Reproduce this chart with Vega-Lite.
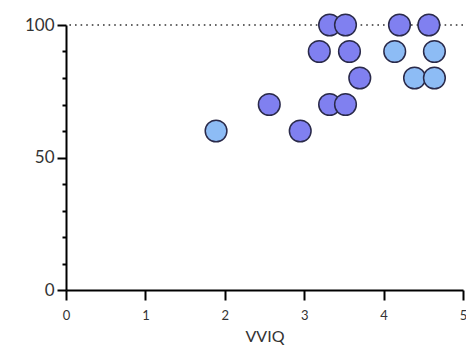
{
  "$schema": "https://vega.github.io/schema/vega-lite/v6.json",
  "width": 397,
  "height": 265,
  "autosize": {"type": "none"},
  "padding": {"left": 66, "top": 25, "right": 3, "bottom": 68},
  "background": "white",
  "config": {"view": {"stroke": null}, "font": "Lato"},
  "resolve": {"axis": {"y": "independent"}},
  "layer": [
    {
      "data": {"values": [{"level": 100}]},
      "mark": {"type": "rule", "color": "#333333", "strokeWidth": 1.6, "strokeDash": [1.6, 4]},
      "encoding": {
        "y": {
          "field": "level", "type": "quantitative",
          "scale": {"domain": [0, 100], "nice": false},
          "axis": {
            "orient": "left",
            "values": [10, 20, 30, 40, 60, 70, 80, 90],
            "labels": false, "domain": false, "grid": false, "title": null,
            "tickColor": "black", "tickWidth": 2, "tickSize": 4
          }
        }
      }
    },
    {
      "data": {"values": [
        {"VVIQ": 1.89, "score": 60, "group": "light"},
        {"VVIQ": 2.95, "score": 60, "group": "dark"},
        {"VVIQ": 2.56, "score": 70, "group": "dark"},
        {"VVIQ": 3.32, "score": 70, "group": "dark"},
        {"VVIQ": 3.52, "score": 70, "group": "dark"},
        {"VVIQ": 3.70, "score": 80, "group": "dark"},
        {"VVIQ": 4.39, "score": 80, "group": "light"},
        {"VVIQ": 4.64, "score": 80, "group": "light"},
        {"VVIQ": 3.19, "score": 90, "group": "dark"},
        {"VVIQ": 3.57, "score": 90, "group": "dark"},
        {"VVIQ": 4.14, "score": 90, "group": "light"},
        {"VVIQ": 4.64, "score": 90, "group": "light"},
        {"VVIQ": 3.32, "score": 100, "group": "dark"},
        {"VVIQ": 3.52, "score": 100, "group": "dark"},
        {"VVIQ": 4.20, "score": 100, "group": "dark"},
        {"VVIQ": 4.57, "score": 100, "group": "dark"}
      ]},
      "mark": {"type": "point", "shape": "circle", "filled": true, "size": 470, "opacity": 1, "stroke": "#2a2a4a", "strokeWidth": 1.5},
      "encoding": {
        "x": {
          "field": "VVIQ", "type": "quantitative",
          "scale": {"domain": [0, 5], "nice": false},
          "axis": {
            "values": [0, 1, 2, 3, 4, 5],
            "title": "VVIQ",
            "titleFont": "Lato", "titleFontSize": 16, "titleFontWeight": "normal", "titleColor": "#333333", "titlePadding": 6,
            "labelFont": "Lato", "labelFontSize": 13, "labelColor": "#333333", "labelPadding": 9,
            "labelFlush": false, "labelOverlap": false,
            "domainColor": "black", "domainWidth": 2,
            "tickColor": "black", "tickWidth": 2, "tickSize": 10,
            "grid": false
          }
        },
        "y": {
          "field": "score", "type": "quantitative",
          "scale": {"domain": [0, 100], "nice": false},
          "axis": {
            "orient": "left",
            "values": [0, 50, 100],
            "title": null,
            "labelFont": "Lato", "labelFontSize": 17, "labelColor": "#333333", "labelPadding": 3,
            "labelFlush": false, "labelOverlap": false,
            "domainColor": "black", "domainWidth": 2,
            "tickColor": "black", "tickWidth": 2, "tickSize": 9,
            "grid": false
          }
        },
        "fill": {
          "field": "group", "type": "nominal",
          "scale": {"domain": ["light", "dark"], "range": ["#8dbcf5", "#8080f0"]},
          "legend": null
        }
      }
    }
  ]
}
